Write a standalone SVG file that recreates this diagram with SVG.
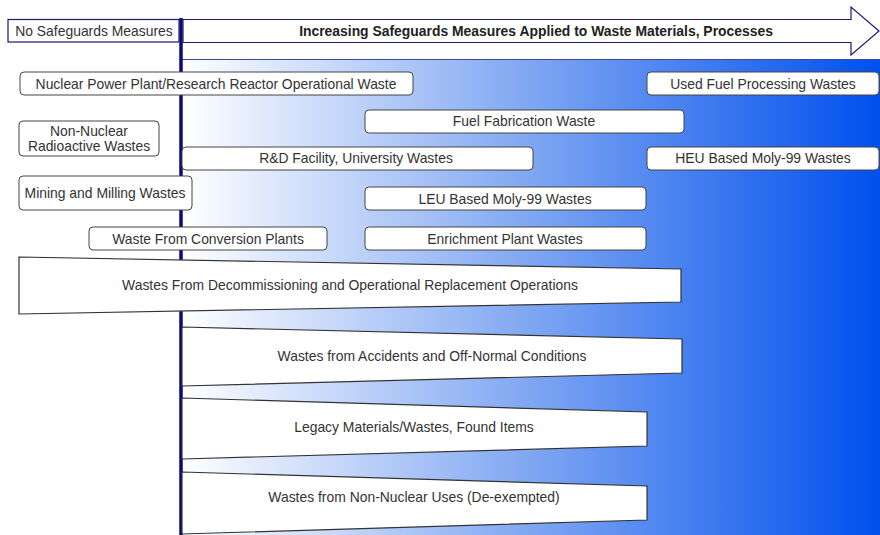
<svg xmlns="http://www.w3.org/2000/svg" width="880" height="535" viewBox="0 0 880 535">
<style>
.t{font-family:"Liberation Sans",Arial,sans-serif;font-size:13.9px;fill:#333;text-anchor:middle;dominant-baseline:central}
.b{font-weight:bold;fill:#222}
.rb{fill:#fff;stroke:#444;stroke-width:1}
.sk{fill:#fff;stroke:#333;stroke-width:1.2}
.nv{fill:#fff;stroke:#1a1a6e;stroke-width:1.2}
</style>
<defs>
<linearGradient id="g" x1="0" y1="0" x2="1" y2="0">
<stop offset="0" stop-color="#ffffff"/>
<stop offset="0.5" stop-color="#7fa6f2"/>
<stop offset="1" stop-color="#0050ee"/>
</linearGradient>
</defs>
<rect width="880" height="535" fill="#fff"/>
<g id="background">
<rect x="181" y="59" width="699" height="476" fill="url(#g)"/>
<line x1="181" y1="59.5" x2="880" y2="59.5" stroke="#3a4aa0" stroke-width="1"/>
</g>
<g id="connectors">
<line x1="181" y1="18" x2="181" y2="535" stroke="#0a0a78" stroke-width="3.5"/>
</g>
<g id="no-safeguards">
<rect class="nv" x="8" y="19.5" width="171" height="22.5"/>
<text class="t" x="94" y="31">No Safeguards Measures</text>
</g>
<g id="increasing-arrow">
<polygon class="nv" points="183,19.5 851,19.5 851,7 879,31 851,55 851,42.5 183,42.5"/>
<text class="t b" x="536" y="31">Increasing Safeguards Measures Applied to Waste Materials, Processes</text>
</g>
<g id="npp-waste">
<rect class="rb" x="20" y="72" width="393" height="23" rx="4"/>
<text class="t" x="216" y="84">Nuclear Power Plant/Research Reactor Operational Waste</text>
</g>
<g id="used-fuel">
<rect class="rb" x="647" y="72" width="232" height="23" rx="4"/>
<text class="t" x="763" y="84">Used Fuel Processing Wastes</text>
</g>
<g id="non-nuclear-radioactive">
<rect class="rb" x="19" y="121" width="140" height="35" rx="4"/>
<text class="t" x="89" y="131">Non-Nuclear</text>
<text class="t" x="89" y="146">Radioactive Wastes</text>
</g>
<g id="fuel-fabrication">
<rect class="rb" x="365" y="110" width="319" height="23" rx="4"/>
<text class="t" x="524" y="121">Fuel Fabrication Waste</text>
</g>
<g id="rd-facility">
<rect class="rb" x="182" y="147" width="351" height="23" rx="4"/>
<text class="t" x="356" y="158">R&amp;D Facility, University Wastes</text>
</g>
<g id="heu-moly">
<rect class="rb" x="647" y="147" width="232" height="23" rx="4"/>
<text class="t" x="763" y="158">HEU Based Moly-99 Wastes</text>
</g>
<g id="mining-milling">
<rect class="rb" x="19" y="176" width="173" height="34" rx="4"/>
<text class="t" x="105" y="193">Mining and Milling Wastes</text>
</g>
<g id="leu-moly">
<rect class="rb" x="365" y="187" width="281" height="23" rx="4"/>
<text class="t" x="505" y="199">LEU Based Moly-99 Wastes</text>
</g>
<g id="conversion">
<rect class="rb" x="89" y="227" width="238" height="23" rx="4"/>
<text class="t" x="208" y="239">Waste From Conversion Plants</text>
</g>
<g id="enrichment">
<rect class="rb" x="365" y="227" width="281" height="23" rx="4"/>
<text class="t" x="505" y="239">Enrichment Plant Wastes</text>
</g>
<g id="decommissioning">
<polygon class="sk" points="19,257 681,269 681,302 19,314"/>
<text class="t" x="350" y="285">Wastes From Decommissioning and Operational Replacement Operations</text>
</g>
<g id="accidents">
<polygon class="sk" points="182,327 682,339 682,373 182,386"/>
<text class="t" x="432" y="356">Wastes from Accidents and Off-Normal Conditions</text>
</g>
<g id="legacy">
<polygon class="sk" points="182,398 647,412 647,446 182,459"/>
<text class="t" x="414" y="427">Legacy Materials/Wastes, Found Items</text>
</g>
<g id="non-nuclear-uses">
<polygon class="sk" points="182,472 647,486 647,520 182,534"/>
<text class="t" x="414" y="497">Wastes from Non-Nuclear Uses (De-exempted)</text>
</g>
</svg>
